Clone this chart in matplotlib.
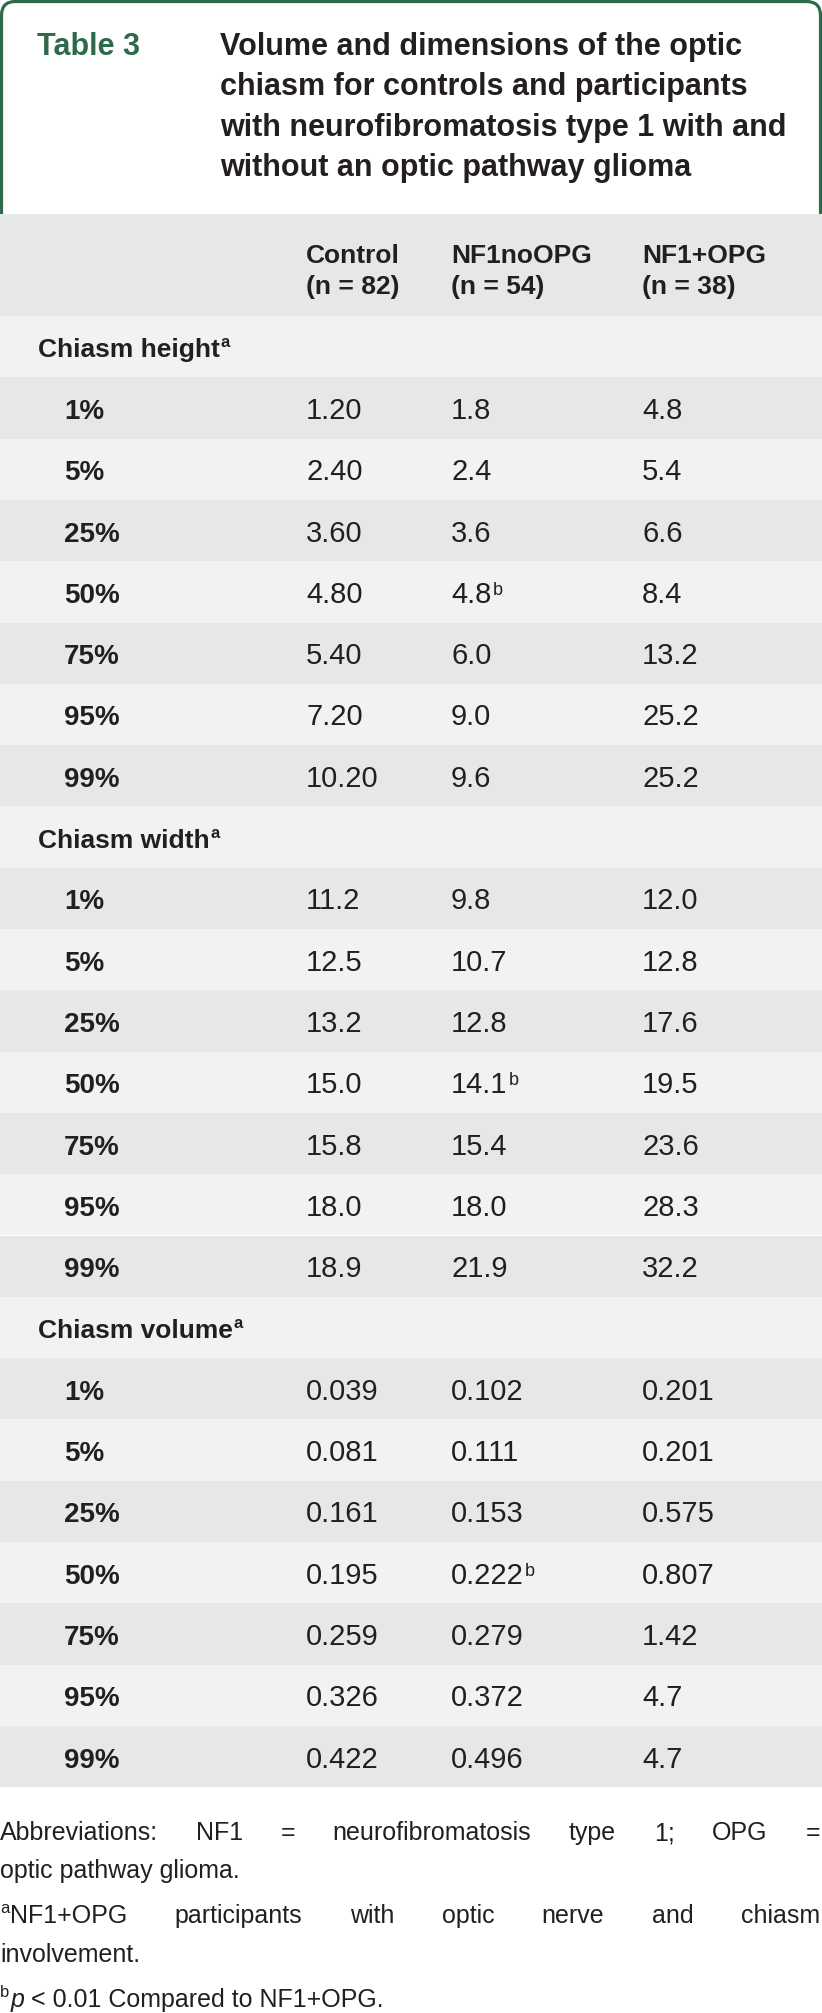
import matplotlib.pyplot as plt
from matplotlib.patches import Rectangle, FancyBboxPatch

plt.rcParams['font.family'] = ['Liberation Sans', 'DejaVu Sans']

# table content
title_tag = 'Table 3'
title_lines = ['Volume and dimensions of the optic',
               'chiasm for controls and participants',
               'with neurofibromatosis type 1 with and',
               'without an optic pathway glioma']
col_names = ['Control', 'NF1noOPG', 'NF1+OPG']
col_ns = ['(n = 82)', '(n = 54)', '(n = 38)']
sections = ['Chiasm height', 'Chiasm width', 'Chiasm volume']
percentiles = ['1%', '5%', '25%', '50%', '75%', '95%', '99%']

height_control = ['1.20', '2.40', '3.60', '4.80', '5.40', '7.20', '10.20']
height_nf1no = ['1.8', '2.4', '3.6', '4.8', '6.0', '9.0', '9.6']
height_nf1opg = ['4.8', '5.4', '6.6', '8.4', '13.2', '25.2', '25.2']
width_control = ['11.2', '12.5', '13.2', '15.0', '15.8', '18.0', '18.9']
width_nf1no = ['9.8', '10.7', '12.8', '14.1', '15.4', '18.0', '21.9']
width_nf1opg = ['12.0', '12.8', '17.6', '19.5', '23.6', '28.3', '32.2']
volume_control = ['0.039', '0.081', '0.161', '0.195', '0.259', '0.326', '0.422']
volume_nf1no = ['0.102', '0.111', '0.153', '0.222', '0.279', '0.372', '0.496']
volume_nf1opg = ['0.201', '0.201', '0.575', '0.807', '1.42', '4.7', '4.7']

section_data = [
    (height_control, height_nf1no, height_nf1opg),
    (width_control, width_nf1no, width_nf1opg),
    (volume_control, volume_nf1no, volume_nf1opg),
]
# superscript "b" goes on the NF1noOPG median of each section
sup_b_row = '50%'

INK = '#231f20'
GREEN = '#2d6a4a'
DARK = '#e6e8e7'
LIGHT = '#f2f2f2'

W, H = 822, 2013
fig = plt.figure(figsize=(W / 100, H / 100), dpi=100)
ax = fig.add_axes([0, 0, 1, 1])
ax.set_xlim(0, W)
ax.set_ylim(H, 0)
ax.axis('off')
r = fig.canvas.get_renderer()


def put(x, y, s, size, weight='normal', color=INK, sup=None, sup_size=12, sup_rise=9):
    t = ax.text(x, y, s, fontsize=size, fontweight=weight, color=color,
                ha='left', va='baseline')
    if sup:
        w = t.get_window_extent(r).width
        ax.text(x + w + 1, y - sup_rise, sup, fontsize=sup_size, fontweight=weight,
                color=color, ha='left', va='baseline')
    return t


def justify(words, y, x0, x1, size):
    texts = [ax.text(0, y, w, fontsize=size, color=INK, va='baseline') for w in words]
    widths = [t.get_window_extent(r).width for t in texts]
    gap = (x1 - x0 - sum(widths)) / (len(words) - 1)
    x = x0
    for t, w in zip(texts, widths):
        t.set_x(x)
        x += w + gap


# title box
box = FancyBboxPatch((1.5, 1.5), W - 3, 260, boxstyle='round,pad=0,rounding_size=14',
                     facecolor='white', edgecolor=GREEN, linewidth=2.3)
ax.add_patch(box)
put(37, 55, title_tag, 22, weight='bold', color=GREEN)
for i, line in enumerate(title_lines):
    put(220, 55 + i * 40.3, line, 22, weight='bold')

# header row
head_top, table_top = 214, 316
ax.add_patch(Rectangle((0, head_top), W, table_top - head_top, facecolor=DARK, edgecolor='none'))
col_x = [306, 451, 642]
for x, name, n in zip(col_x, col_names, col_ns):
    put(x, 263, name, 19, weight='bold')
    put(x, 294, n, 19, weight='bold')

# body rows
row_h = 61.3
row = 0
for sec, cols in zip(sections, section_data):
    y0 = table_top + row * row_h
    ax.add_patch(Rectangle((0, y0), W, row_h, facecolor=LIGHT if row % 2 == 0 else DARK,
                           edgecolor='none'))
    put(38, y0 + row_h / 2 + 10.5, sec, 19, weight='bold', sup='a', sup_size=12, sup_rise=10)
    row += 1
    for k, p in enumerate(percentiles):
        y0 = table_top + row * row_h
        ax.add_patch(Rectangle((0, y0), W, row_h, facecolor=LIGHT if row % 2 == 0 else DARK,
                               edgecolor='none'))
        yb = y0 + row_h / 2 + 11
        put(64, yb, p, 20, weight='bold')
        for j, (x, vals) in enumerate(zip(col_x, cols)):
            sup = 'b' if (j == 1 and p == sup_b_row) else None
            put(x, yb, vals[k], 21, sup=sup, sup_size=13, sup_rise=8)
        row += 1

# footnotes
fs = 18
justify(['Abbreviations:', 'NF1', '=', 'neurofibromatosis', 'type', '1;', 'OPG', '='],
        1840, 0, 820, fs)
put(0, 1878, 'optic pathway glioma.', fs)
ax.text(0, 1913, 'a', fontsize=12, color=INK, va='baseline')
justify(['NF1+OPG', 'participants', 'with', 'optic', 'nerve', 'and', 'chiasm'],
        1923, 10, 820, fs)
put(0, 1962, 'involvement.', fs)
ax.text(0, 1997, 'b', fontsize=12, color=INK, va='baseline')
pt = ax.text(11, 2007, 'p', fontsize=fs, color=INK, style='italic', va='baseline')
pw = pt.get_window_extent(r).width
put(11 + pw + 6, 2007, '< 0.01 Compared to NF1+OPG.', fs)

fig.savefig('out.png', dpi=100, facecolor='white')
